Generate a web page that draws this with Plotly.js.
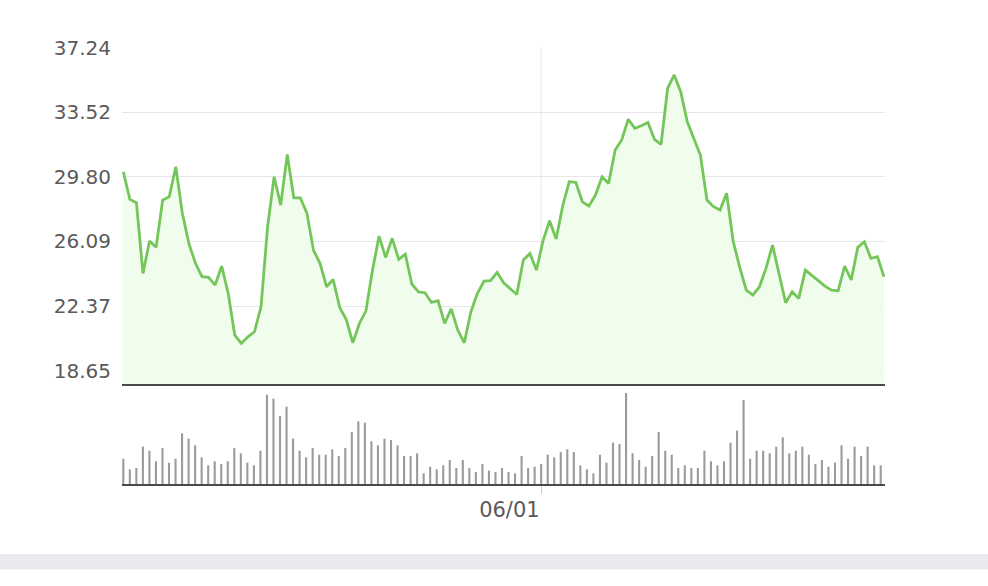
<!DOCTYPE html>
<html>
<head>
<meta charset="utf-8">
<script src="https://cdn.plot.ly/plotly-3.0.1.min.js"></script>
<style>html,body{margin:0;padding:0;background:#fff;}#chart{width:988px;height:586px;}</style>
</head>
<body>
<div id="chart"></div>
<script>
// Daily closing price
var prices = [
  30.10, 28.51, 28.32, 24.25, 26.11, 25.75, 28.47, 28.66, 30.39, 27.71,
  25.98, 24.83, 24.06, 24.02, 23.58, 24.67, 23.10, 20.70, 20.22, 20.60,
  20.89, 22.33, 26.93, 29.81, 28.18, 31.10, 28.60, 28.60, 27.71, 25.59,
  24.83, 23.48, 23.90, 22.29, 21.60, 20.26, 21.37, 22.10, 24.44, 26.40,
  25.17, 26.27, 25.06, 25.36, 23.64, 23.19, 23.14, 22.58, 22.68, 21.37,
  22.21, 20.99, 20.26, 22.04, 23.10, 23.81, 23.83, 24.31, 23.71, 23.39,
  23.04, 25.02, 25.40, 24.44, 26.12, 27.28, 26.23, 28.13, 29.53, 29.49,
  28.37, 28.13, 28.76, 29.81, 29.43, 31.35, 31.93, 33.12, 32.60, 32.75,
  32.94, 31.97, 31.68, 34.90, 35.67, 34.71, 32.98, 32.02, 31.06, 28.47,
  28.09, 27.90, 28.86, 26.10, 24.60, 23.29, 23.00, 23.48, 24.54, 25.88,
  24.25, 22.56, 23.19, 22.81, 24.44, 24.15, 23.83, 23.52, 23.29, 23.25,
  24.67, 23.87, 25.75, 26.07, 25.12, 25.21, 24.06
];
// Daily volume (relative units)
var volumes = [
  25.3, 14.7, 16.0, 37.3, 33.3, 22.7, 36.0, 21.3, 25.3, 50.7,
  45.3, 38.7, 26.7, 18.7, 22.7, 20.0, 22.7, 36.0, 30.7, 21.3,
  18.7, 33.3, 89.3, 85.3, 68.0, 77.3, 45.3, 33.3, 26.7, 36.0,
  29.3, 29.3, 34.7, 28.0, 36.0, 52.0, 62.7, 61.3, 42.7, 38.7,
  45.3, 44.0, 38.7, 28.0, 28.0, 30.7, 10.7, 17.3, 14.7, 18.7,
  24.0, 16.0, 24.0, 16.0, 12.0, 20.0, 13.3, 12.0, 16.0, 12.0,
  10.7, 28.0, 16.0, 17.3, 20.0, 29.3, 26.7, 32.0, 34.7, 32.0,
  18.7, 14.7, 10.7, 29.3, 21.3, 41.3, 40.0, 91.0, 30.7, 24.0,
  17.3, 28.0, 52.0, 33.3, 29.3, 16.0, 18.7, 16.0, 16.0, 33.3,
  22.7, 18.7, 22.7, 41.3, 53.3, 84.0, 25.3, 33.3, 33.3, 30.7,
  37.3, 46.7, 30.7, 33.3, 37.3, 29.3, 20.0, 24.0, 17.3, 21.3,
  38.7, 25.3, 37.3, 28.0, 37.3, 18.7, 18.7
];
// Category labels: one calendar day per point, starting 03/29
var startMonth = 3, startDay = 29;
var daysInMonth = [0, 31, 28, 31, 30, 31, 30, 31, 31, 30, 31, 30, 31];
var dates = [];
(function () {
  var m = startMonth, d = startDay;
  for (var i = 0; i < prices.length; i++) {
    dates.push((m < 10 ? '0' : '') + m + '/' + (d < 10 ? '0' : '') + d);
    d++;
    if (d > daysInMonth[m]) { d = 1; m++; }
  }
})();
var yTickVals = [18.65, 22.37, 26.09, 29.80, 33.52, 37.24];
var yTickText = ['18.65', '22.37', '26.09', '29.80', '33.52', '37.24'];
var xTickLabels = ['06/01'];

var idx = dates.map(function (_, i) { return i; });
var markIdx = dates.indexOf(xTickLabels[0]);

var traces = [
  {
    x: idx, y: prices, type: 'scatter', mode: 'lines',
    xaxis: 'x', yaxis: 'y',
    line: { color: '#74c65a', width: 2.8 },
    fill: 'tozeroy', fillcolor: '#f1fdec',
    hoverinfo: 'skip'
  },
  {
    x: idx, y: volumes, type: 'bar',
    xaxis: 'x2', yaxis: 'y2',
    width: 0.32,
    marker: { color: '#9b9b9b', line: { width: 0 } },
    hoverinfo: 'skip'
  }
];

var font = { family: 'DejaVu Sans, Verdana, sans-serif', size: 20, color: '#555' };

var layout = {
  width: 988, height: 586,
  margin: { l: 122, r: 103, t: 47, b: 102 },
  paper_bgcolor: '#fff', plot_bgcolor: 'rgba(0,0,0,0)',
  showlegend: false,
  font: font,
  xaxis: {
    anchor: 'y', domain: [0, 1],
    range: [-0.2, 116.15],
    showgrid: false, zeroline: false,
    showline: true, linecolor: '#4a4a4a', linewidth: 2,
    showticklabels: false, ticks: ''
  },
  yaxis: {
    domain: [0.2288, 1],
    range: [17.885, 37.28],
    tickvals: yTickVals, ticktext: yTickText,
    showgrid: true, gridcolor: '#e6e6e8', gridwidth: 1,
    zeroline: false, showline: false,
    ticks: 'outside', ticklen: 6, tickcolor: 'rgba(0,0,0,0)',
    tickfont: { family: 'DejaVu Sans, Verdana, sans-serif', size: 20, color: '#5a5a5a' }
  },
  xaxis2: {
    anchor: 'y2', domain: [0, 1],
    range: [-0.2, 116.66],
    showgrid: false, zeroline: false,
    showline: true, linecolor: '#4a4a4a', linewidth: 2,
    tickvals: [markIdx], ticktext: xTickLabels,
    ticks: 'outside', ticklen: 8, tickcolor: '#cfcfcf', tickwidth: 1,
    ticklabelposition: 'outside left',
    ticklabelstandoff: 6,
    tickfont: { family: 'DejaVu Sans, Verdana, sans-serif', size: 21, color: '#5a5a5a' }
  },
  yaxis2: {
    domain: [0, 0.2197],
    range: [0, 96],
    showgrid: false, zeroline: false, showline: false,
    showticklabels: false, ticks: ''
  },
  shapes: [
    {
      type: 'line', xref: 'x2', yref: 'paper',
      x0: markIdx, x1: markIdx, y0: 0.2288, y1: 1,
      line: { color: '#e6e6e8', width: 1 }, layer: 'below'
    },
    {
      type: 'rect', xref: 'paper', yref: 'paper',
      x0: -0.17, x1: 1.15, y0: -0.1957, y1: -0.1602,
      fillcolor: '#e9eaee', line: { width: 0 }, layer: 'below'
    }
  ]
};

Plotly.newPlot('chart', traces, layout, { staticPlot: true, displayModeBar: false });
</script>
</body>
</html>
